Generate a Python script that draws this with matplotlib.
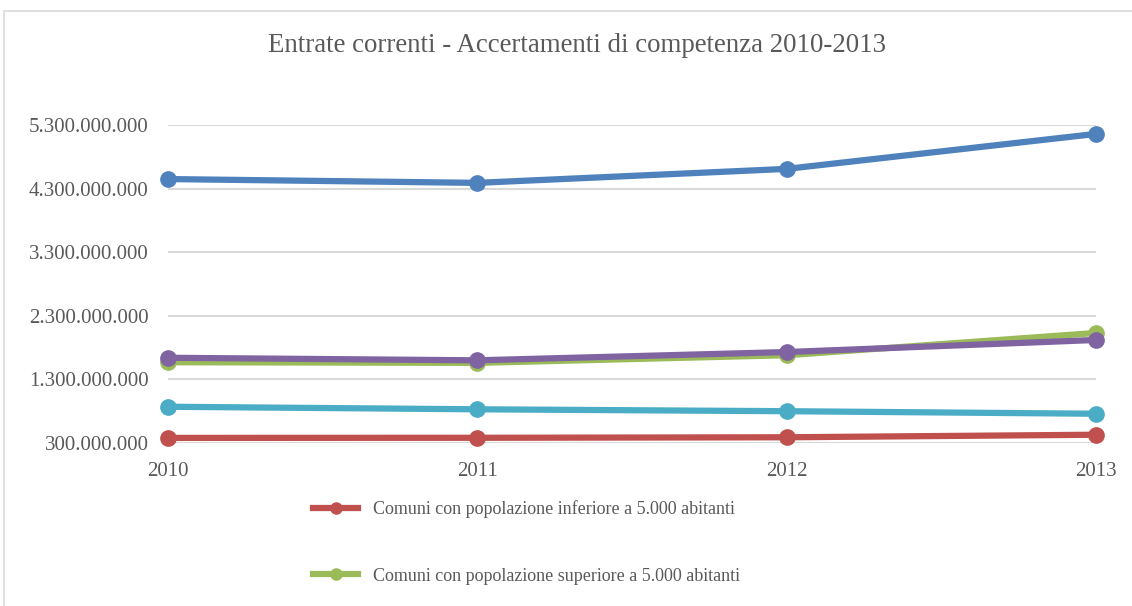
"""
Entrate correnti dei comuni - accertamenti di competenza 2010-2013
"""

import numpy as np
import matplotlib.pyplot as plt
import matplotlib.ticker as mticker
from matplotlib.patches import Rectangle
from matplotlib.lines import Line2D

## Data
anni = [2010, 2011, 2012, 2013]
inferiore_5000 = [380e6, 382e6, 390e6, 430e6]
superiore_5000 = [1570e6, 1560e6, 1680e6, 2030e6]
totale = [4450e6, 4390e6, 4610e6, 5160e6]
serie_viola = [1640e6, 1600e6, 1730e6, 1920e6]
serie_azzurra = [870e6, 830e6, 800e6, 760e6]

yticks = np.arange(300e6, 5.4e9, 1e9)

### Plot figure
plt.rc('font', family='Liberation Serif')
grigio = '#595959'

fig = plt.figure(figsize=(11.32, 6.06), dpi=100)
# chart border (runs off the right and bottom edges)
fig.patches.append(Rectangle((4 / 1132, -0.05), 1.2, 1 - 11 / 606 + 0.05,
                             transform=fig.transFigure, fill=False,
                             edgecolor='#d9d9d9', linewidth=1.2))

ax = fig.add_axes([168 / 1132, (606 - 443) / 606, 928 / 1132, 318 / 606])

serie = [
    (inferiore_5000, '#C0504D'),
    (superiore_5000, '#9BBB59'),
    (totale, '#4F81BD'),
    (serie_viola, '#8064A2'),
    (serie_azzurra, '#4BACC6'),
]
for valori, colore in serie:
    ax.plot(anni, valori, color=colore, linewidth=4.5, marker='o',
            markersize=11, clip_on=False, solid_capstyle='round', zorder=3)

ax.set_xlim(2010, 2013)
ax.set_ylim(300e6, 5.3e9)
ax.set_xticks(anni)
ax.set_yticks(yticks)
ax.yaxis.set_major_formatter(mticker.FuncFormatter(
    lambda v, p: f'{int(round(v)):,}'.replace(',', '.')))
ax.grid(axis='y', color='#d9d9d9', linewidth=1.5)
ax.set_axisbelow(True)
for s in ax.spines.values():
    s.set_visible(False)
ax.tick_params(length=0, labelsize=15, labelcolor=grigio)
ax.tick_params(axis='y', pad=14)
ax.tick_params(axis='x', pad=14)

fig.text(577 / 1132, 1 - 45 / 606,
         'Entrate correnti - Accertamenti di competenza 2010-2013',
         ha='center', va='center', fontsize=19.4, color=grigio)

# legend (only the first two entries fit in the frame)
handles = [Line2D([], [], color='#C0504D', linewidth=4.5, marker='o', markersize=8),
           Line2D([], [], color='#9BBB59', linewidth=4.5, marker='o', markersize=8)]
labels = ['Comuni con popolazione inferiore a 5.000 abitanti',
          'Comuni con popolazione superiore a 5.000 abitanti']
fig.legend(handles, labels, loc='upper left', bbox_to_anchor=(313 / 1132, 1 - 500 / 606),
           frameon=False, fontsize=13, labelcolor=grigio, handlelength=2.5,
           handletextpad=0.8, labelspacing=2.75, borderaxespad=0, borderpad=0)

plt.savefig('out.png', dpi=100)
